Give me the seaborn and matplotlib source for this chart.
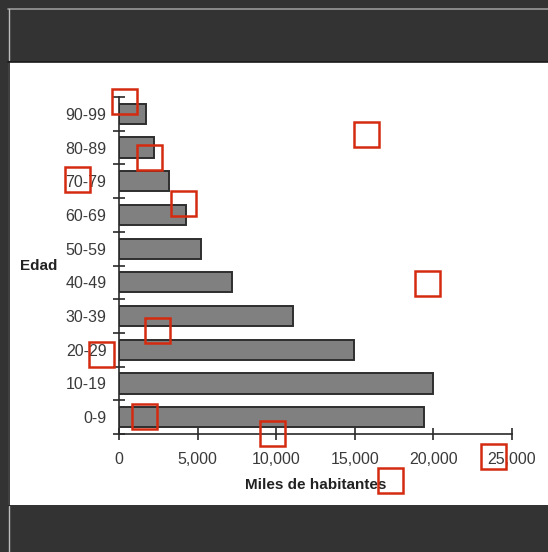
import matplotlib
matplotlib.use("Agg")
import matplotlib.pyplot as plt
import matplotlib.ticker as mticker
import numpy as np
import pandas as pd
import seaborn as sns
from matplotlib.patches import Rectangle
from matplotlib.lines import Line2D

# Data (thousands of inhabitants per age group)
age_groups = ['90-99', '80-89', '70-79', '60-69', '50-59',
              '40-49', '30-39', '20-29', '10-19', '0-9']
population = [1700, 2200, 3150, 4270, 5190, 7220, 11070, 14920, 20000, 19430]
x_ticks = [0, 5000, 10000, 15000, 20000, 25000]

df = pd.DataFrame({'edad': age_groups, 'miles': population})

sns.set_theme(style='white')
plt.rcParams['font.family'] = ['Liberation Sans', 'DejaVu Sans']

W, H = 548, 552
fig = plt.figure(figsize=(W / 100, H / 100), dpi=100, facecolor='#333333')

# white panel + frame lines
fig.patches.append(Rectangle((8 / W, 1 - 505 / H), 1 - 8 / W, (505 - 62) / H,
                             transform=fig.transFigure, facecolor='white',
                             edgecolor='none', zorder=-5))
fig.lines.append(Line2D([8 / W, 1], [1 - 8.5 / H, 1 - 8.5 / H], transform=fig.transFigure,
                        color='#9a9a9a', lw=1.2))
fig.lines.append(Line2D([8.5 / W, 8.5 / W], [1 - 9 / H, 1 - 60 / H], transform=fig.transFigure,
                        color='#bdbdbd', lw=1))
fig.lines.append(Line2D([8.5 / W, 8.5 / W], [0, 1 - 506 / H], transform=fig.transFigure,
                        color='#bdbdbd', lw=1))
fig.lines.append(Line2D([8.5 / W, 8.5 / W], [1 - 62 / H, 1 - 505 / H], transform=fig.transFigure,
                        color='#1a1a1a', lw=1.2))
fig.lines.append(Line2D([8 / W, 1], [1 - 61.5 / H, 1 - 61.5 / H], transform=fig.transFigure,
                        color='#1a1a1a', lw=1.2))

ax = fig.add_axes([119 / W, 1 - 434 / H, (512 - 119) / W, (434 - 97) / H])
ax.set_facecolor('none')

sns.barplot(data=df, x='miles', y='edad', order=age_groups, orient='h',
            color='#808080', saturation=1, width=0.6,
            edgecolor='#2e2e2e', linewidth=1.4, ax=ax)

ax.set_xlim(0, 25000)
ax.set_ylim(9.5, -0.5)
ax.set_xticks(x_ticks)
ax.xaxis.set_major_formatter(mticker.FuncFormatter(lambda v, p: f'{int(v):,}'))

# category ticks sit between the bars
ax.set_yticks(range(len(age_groups)))
ax.set_yticklabels(age_groups)
ax.set_yticks(np.arange(-0.5, len(age_groups), 1), minor=True)
ax.tick_params(axis='y', which='major', length=0, pad=9, labelsize=11.5, labelcolor='#3a3a3a')
ax.tick_params(axis='y', which='minor', left=True, length=8, width=1.2,
               direction='inout', color='#2a2a2a')
ax.tick_params(axis='x', which='major', bottom=True, length=8, width=1.2,
               direction='inout', color='#2a2a2a', pad=9, labelsize=11.5, labelcolor='#3a3a3a')

for s in ['top', 'right']:
    ax.spines[s].set_visible(False)
for s in ['left', 'bottom']:
    ax.spines[s].set_color('#2a2a2a')
    ax.spines[s].set_linewidth(1.2)

ax.set_xlabel('Miles de habitantes', fontsize=11, fontweight='bold', color='#222222', labelpad=8)
ax.set_ylabel('Edad', fontsize=11, fontweight='bold', color='#222222', rotation=0,
              ha='left', va='center')
ax.yaxis.set_label_coords((20 - 119) / (512 - 119), 0.5)

# red marker squares drawn on the reference image
squares = [(112, 89), (137, 145), (65, 167), (171, 191), (354, 122), (415, 271),
           (145, 318), (89, 342), (132, 404), (260, 421), (481, 444), (378, 468)]
for sx, sy in squares:
    fig.patches.append(Rectangle((sx / W, 1 - (sy + 25) / H), 25 / W, 25 / H,
                                 transform=fig.transFigure, facecolor='none',
                                 edgecolor='#d42a10', lw=1.8, zorder=10))

fig.savefig('out.png', dpi=100, facecolor=fig.get_facecolor())
